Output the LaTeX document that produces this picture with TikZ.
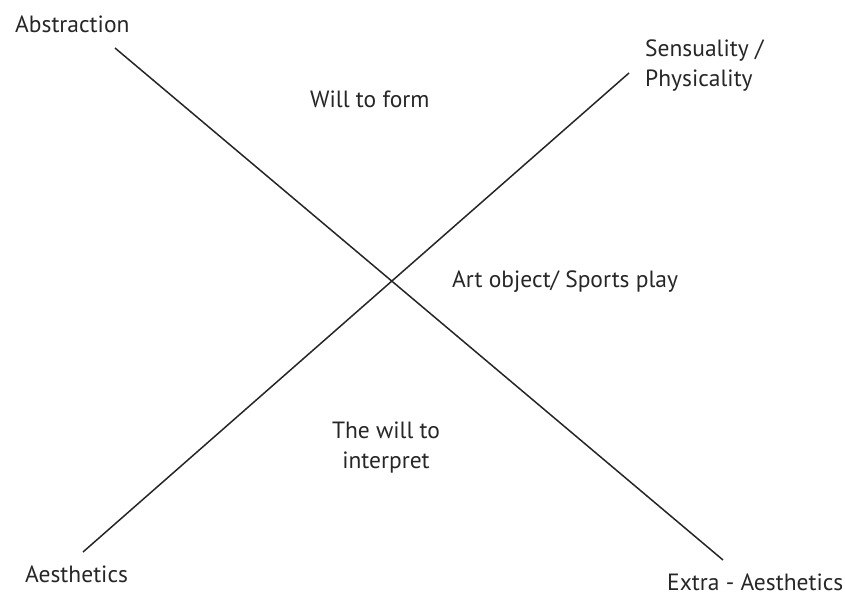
\documentclass[tikz,border=0pt]{standalone}
\usepackage{fontspec}
\setmainfont{PT Sans}
\usetikzlibrary{positioning}
\tikzset{every picture/.style={/utils/exec={\fontsize{23.5}{30}\selectfont}}}
\tikzset{lbl/.style={inner sep=0pt, anchor=base west, text=black!85}}
\tikzset{axis/.style={line width=1.5pt, black!85}}

\begin{document}
\begin{tikzpicture}[x=1pt, y=-1pt]
  \useasboundingbox (0,0) rectangle (845,599);

  % corner labels
  \node [lbl] (abst) at (15,33) {Abstraction};
  \node [lbl, anchor=west, align=left] (sens) at (645,66) {Sensuality /\\Physicality};
  \node [lbl] (aesth) at (25,582) {Aesthetics};
  \node [lbl] (extra) at (667,590) {Extra - Aesthetics};

  % the two axes
  \coordinate (abst end) at (115,48);
  \coordinate (extra end) at (723,560);
  \coordinate (aesth end) at (83,552);
  \coordinate (sens end) at (629,73);
  \draw [axis] (abst end) -- (extra end);
  \draw [axis] (aesth end) -- (sens end);

  % quadrants
  \node [lbl] (form) at (310,107) {Will to form};
  \node [lbl] (art) at (452,287) {Art object/ Sports play};
  \node [lbl, anchor=center, align=center] (interp) at (386,448) {The will to\\interpret};

\end{tikzpicture}
\end{document}
